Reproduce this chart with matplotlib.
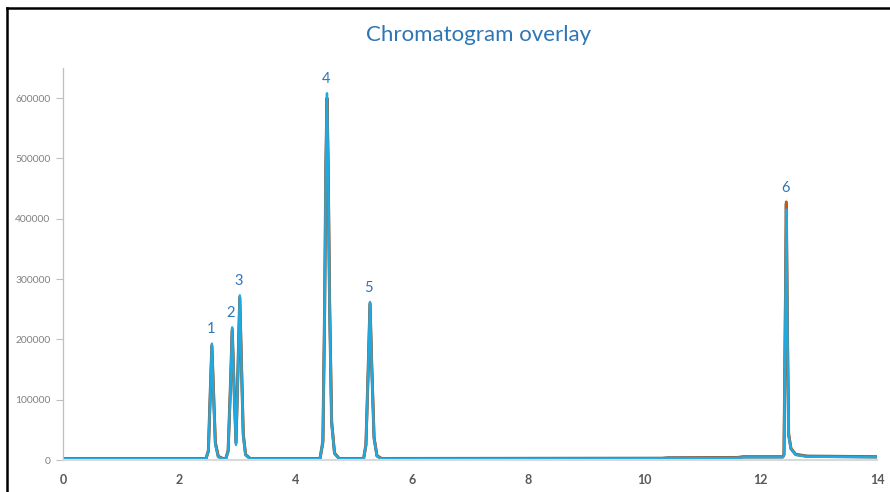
import matplotlib
matplotlib.use("Agg")
import matplotlib.pyplot as plt
from matplotlib.lines import Line2D

plt.rcParams['font.family'] = ['Lato', 'DejaVu Sans']

# retention time grid (min) shared by the overlaid runs
t = [0.0, 2.40, 2.46, 2.50, 2.53, 2.56, 2.59, 2.62, 2.67, 2.75,
     2.80, 2.84, 2.88, 2.91, 2.94, 2.975, 3.01, 3.04, 3.07, 3.10, 3.14, 3.22,
     4.42, 4.47, 4.50, 4.52, 4.54, 4.56, 4.585, 4.62, 4.67, 4.75,
     5.17, 5.21, 5.25, 5.28, 5.31, 5.35, 5.40, 5.48,
     10.30, 10.40, 11.60, 11.70, 12.38,
     12.40, 12.42, 12.44, 12.46, 12.48, 12.52, 12.60, 12.80, 14.0]

run_gray = [2500, 2500, 2500, 16000, 105000, 190000, 108000, 28000, 6000, 2500,
            2500, 16000, 125000, 217000, 125000, 28000, 155000, 270000, 155000, 42000, 9000, 2500,
            2500, 32000, 255000, 485000, 600000, 490000, 260000, 62000, 11000, 2500,
            2500, 26000, 155000, 260000, 155000, 36000, 7000, 2500,
            3000, 3800, 4200, 5500, 5500,
            9000, 205000, 425000, 205000, 42000, 19000, 9500, 6500, 5500]

run_orange = [2000, 2000, 2200, 14000, 98000, 188000, 112000, 30000, 6000, 2000,
              2000, 14000, 118000, 214000, 128000, 30000, 148000, 268000, 158000, 44000, 9000, 2000,
              2000, 28000, 245000, 475000, 598000, 495000, 265000, 65000, 12000, 2000,
              2000, 24000, 148000, 258000, 158000, 38000, 7000, 2000,
              2500, 3000, 3500, 5000, 5000,
              8500, 210000, 428000, 210000, 44000, 19000, 9000, 6000, 5000]

run_blue = [2000, 2000, 2000, 15000, 100000, 193000, 100000, 25000, 5000, 2000,
            2000, 15000, 120000, 220000, 120000, 25000, 150000, 273000, 150000, 40000, 8000, 2000,
            2000, 30000, 250000, 480000, 608000, 480000, 250000, 60000, 10000, 2000,
            2000, 25000, 150000, 262000, 150000, 35000, 6000, 2000,
            2500, 2800, 3300, 4500, 4500,
            8000, 200000, 415000, 200000, 40000, 18000, 8500, 5500, 4500]

peak_ids = ['1', '2', '3', '4', '5', '6']
peak_rt = [2.56, 2.91, 3.04, 4.54, 5.28, 12.44]
peak_top = [193000, 220000, 273000, 608000, 262000, 428000]

fig = plt.figure(figsize=(8.9, 4.92), dpi=100)
ax = fig.add_axes([0.0708, 0.065, 0.9146, 0.797])

ax.plot(t, run_gray, color='#5f6f7a', lw=2.2)
ax.plot(t, run_orange, color='#c55a11', lw=2.0)
ax.plot(t, run_blue, color='#1fa9e1', lw=1.7)

for pid, rt, top in zip(peak_ids, peak_rt, peak_top):
    ax.text(rt - 0.02, top + 12000, pid, color='#2e75b6', fontsize=10.5,
            ha='center', va='bottom')

ax.set_xlim(0, 14)
ax.set_ylim(0, 650000)
ax.set_xticks(range(0, 15, 2))
ax.set_yticks(range(0, 700000, 100000))
ax.tick_params(axis='x', length=0, pad=10, labelsize=9, labelcolor='#595959')
ax.tick_params(axis='y', length=5, width=0.8, color='#bfbfbf', pad=4,
               labelsize=7.4, labelcolor='#808080')
for lab in ax.get_xticklabels():
    lab.set_fontweight('bold')

for s in ['top', 'right']:
    ax.spines[s].set_visible(False)
ax.spines['left'].set_color('#bfbfbf')
ax.spines['left'].set_linewidth(0.9)
ax.spines['bottom'].set_color('#d9d9d9')
ax.spines['bottom'].set_linewidth(1.5)

fig.text(0.538, 0.928, 'Chromatogram overlay', color='#2e75b6', fontsize=16,
         ha='center', va='center')

# black frame on left and top edges
fig.add_artist(Line2D([0.0084, 0.0084], [0, 0.9845], color='black', lw=1.8))
fig.add_artist(Line2D([0.0084, 1.0], [0.9845, 0.9845], color='black', lw=1.8))

fig.savefig('out.png', dpi=100)
